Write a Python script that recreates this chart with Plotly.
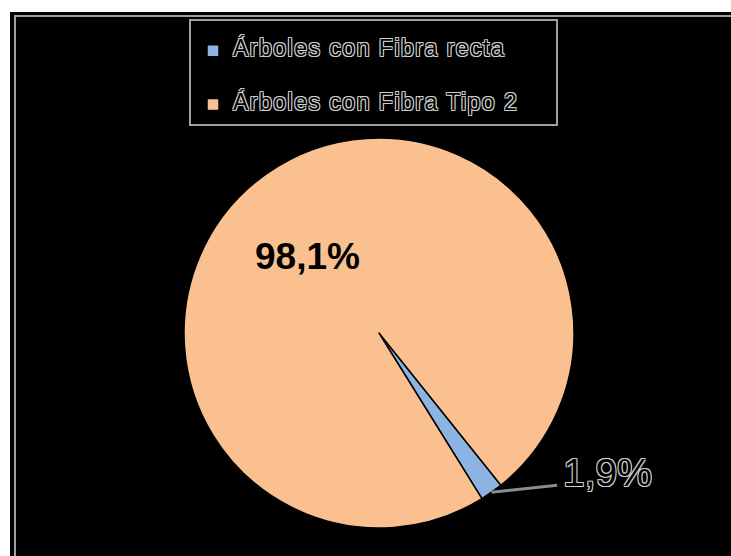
import math
import plotly.graph_objects as go

labels = ["Árboles con Fibra recta", "Árboles con Fibra Tipo 2"]
values = [1.9, 98.1]
text_labels = ["1,9%", "98,1%"]
colors = ["#8db3e2", "#fac090"]

W, H = 731, 556
FONT = "Liberation Sans, Arial, sans-serif"
outline = "-1px -1px 0 #cfcfcf, 1px -1px 0 #cfcfcf, -1px 1px 0 #cfcfcf, 1px 1px 0 #cfcfcf"

# pie geometry (pixels)
cx, cy, R = 379, 333, 195
rotation = 141.3

legend_labels = [
    "\u00a0<br><span style='font-size:23px;letter-spacing:1.5px'>" + l + "</span><br>\u00a0"
    for l in labels
]

fig = go.Figure(go.Pie(
    labels=legend_labels,
    values=values,
    textinfo="none",
    sort=False,
    direction="clockwise",
    rotation=rotation,
    marker=dict(colors=colors, line=dict(color="black", width=1.5)),
    domain=dict(x=[(cx - R) / W, (cx + R) / W], y=[1 - (cy + R) / H, 1 - (cy - R) / H]),
    hoverinfo="percent",
))

# leader line for the small slice, from its mid angle on the rim
mid = math.radians(rotation + values[0] / sum(values) * 360 / 2)
tipx, tipy = cx + R * math.sin(mid), cy - R * math.cos(mid)

fig.update_layout(
    width=W, height=H,
    margin=dict(l=0, r=0, t=0, b=0),
    paper_bgcolor="white",
    showlegend=True,
    legend=dict(
        x=193 / W, y=1 - 19 / H, xanchor="left", yanchor="top",
        bgcolor="rgba(0,0,0,0)", borderwidth=0,
        font=dict(family=FONT, size=13, color="black", shadow=outline),
    ),
    annotations=[
        dict(xref="paper", yref="paper", x=tipx / W, y=1 - tipy / H, text="",
             showarrow=True, arrowhead=0, arrowwidth=3, arrowcolor="#8c8c8c",
             ax=67, ay=-7, axref="pixel", ayref="pixel"),
        dict(xref="paper", yref="paper", x=(tipx + 69) / W, y=1 - 472 / H,
             xanchor="left", yanchor="middle", showarrow=False, text=text_labels[0],
             font=dict(family=FONT, size=39, color="black", shadow=outline)),
        dict(xref="paper", yref="paper", x=307 / W, y=1 - 256 / H,
             xanchor="center", yanchor="middle", showarrow=False, text=text_labels[1],
             font=dict(family=FONT, size=37, color="black", weight="bold")),
    ],
    shapes=[
        dict(type="rect", xref="paper", yref="paper", x0=10 / W, x1=1.05, y0=-0.05, y1=1 - 12 / H,
             fillcolor="black", line=dict(width=0), layer="below"),
        dict(type="rect", xref="paper", yref="paper", x0=15 / W, x1=1.05, y0=-0.05, y1=1 - 16 / H,
             fillcolor="rgba(0,0,0,0)", line=dict(color="#a0a0a0", width=2), layer="below"),
        dict(type="rect", xref="paper", yref="paper", x0=190 / W, x1=557 / W, y0=1 - 125 / H, y1=1 - 20 / H,
             fillcolor="black", line=dict(color="#a0a0a0", width=2), layer="below"),
    ],
)

fig.write_html("out.html")
